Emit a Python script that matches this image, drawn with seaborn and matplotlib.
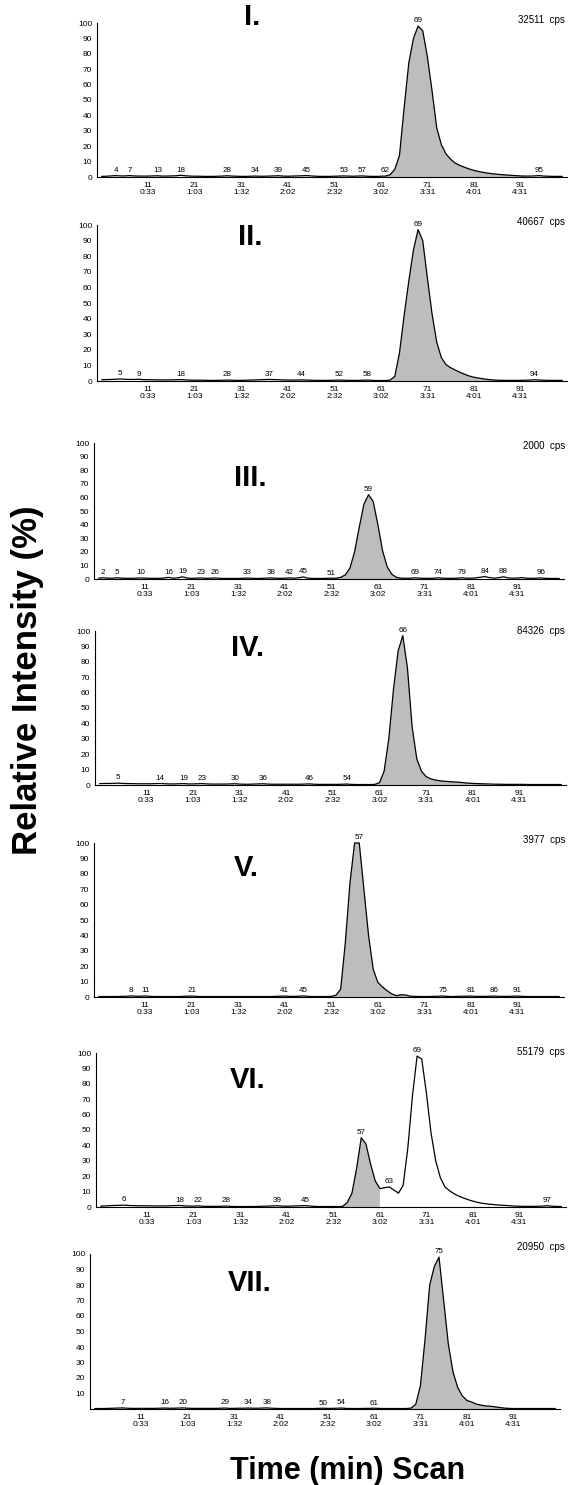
import matplotlib
matplotlib.use("Agg")
import matplotlib.pyplot as plt
import numpy as np
import pandas as pd
import seaborn as sns

sns.set_theme(style="white")
plt.rcParams["font.family"] = ["Liberation Sans", "DejaVu Sans"]
plt.rcParams["text.color"] = "black"
plt.rcParams["axes.labelcolor"] = "black"
plt.rcParams["xtick.color"] = "black"
plt.rcParams["ytick.color"] = "black"

# scan numbers and elution times of the labelled scans
scans = list(range(1, 101))
scan_ticks = [11, 21, 31, 41, 51, 61, 71, 81, 91]
time_ticks = ["0:33", "1:03", "1:32", "2:02", "2:32", "3:02", "3:31", "4:01", "4:31"]

panel_names = ["I.", "II.", "III.", "IV.", "V.", "VI.", "VII."]
cps_values = [32511, 40667, 2000, 84326, 3977, 55179, 20950]

# relative intensity (%) per scan, scans 1..100
trace_I = [0.4, 0.5, 0.7, 0.9, 0.7, 0.7, 0.9, 0.7, 0.6, 0.6,
           0.6, 0.7, 0.8, 0.6, 0.6, 0.7, 0.8, 1.1, 0.8, 0.6,
           0.5, 0.5, 0.4, 0.4, 0.4, 0.5, 0.6, 0.8, 0.6, 0.5,
           0.4, 0.4, 0.5, 0.6, 0.5, 0.5, 0.6, 0.7, 0.8, 0.6,
           0.5, 0.6, 0.7, 0.8, 0.9, 0.7, 0.5, 0.4, 0.4, 0.4,
           0.5, 0.6, 0.7, 0.6, 0.5, 0.6, 0.7, 0.5, 0.4, 0.4,
           0.5, 0.6, 1.5, 5.0, 14.0, 45.0, 74.0, 90.0, 98.0, 95.0,
           78.0, 56.0, 32.0, 21.0, 15.0, 11.5, 9.0, 7.5, 6.3, 5.2,
           4.3, 3.6, 3.0, 2.5, 2.1, 1.8, 1.5, 1.3, 1.1, 0.9,
           0.7, 0.6, 0.6, 0.7, 0.9, 0.6, 0.5, 0.4, 0.4, 0.4]
trace_II = [0.8, 0.9, 1.0, 1.1, 1.3, 1.1, 1.0, 1.0, 1.1, 0.9,
            0.8, 0.8, 0.7, 0.7, 0.7, 0.7, 0.8, 0.9, 0.7, 0.6,
            0.5, 0.5, 0.5, 0.4, 0.4, 0.4, 0.5, 0.6, 0.5, 0.4,
            0.4, 0.5, 0.6, 0.7, 0.8, 0.9, 1.0, 0.9, 0.8, 0.7,
            0.6, 0.6, 0.6, 0.7, 0.6, 0.5, 0.4, 0.4, 0.4, 0.4,
            0.5, 0.6, 0.5, 0.4, 0.4, 0.4, 0.5, 0.6, 0.4, 0.3,
            0.3, 0.3, 0.6, 3.0, 18.0, 42.0, 64.0, 84.0, 97.0, 90.0,
            66.0, 43.0, 25.0, 15.0, 10.5, 8.5, 7.0, 5.6, 4.3, 3.2,
            2.4, 1.9, 1.4, 1.0, 0.7, 0.5, 0.4, 0.4, 0.4, 0.4,
            0.4, 0.5, 0.6, 0.8, 0.6, 0.5, 0.4, 0.4, 0.4, 0.4]
trace_III = [0.6, 0.9, 0.6, 0.6, 0.9, 0.6, 0.5, 0.5, 0.6, 0.8,
             0.6, 0.5, 0.5, 0.5, 0.7, 1.2, 0.6, 0.8, 1.6, 0.7,
             0.5, 0.6, 0.8, 0.5, 0.6, 0.8, 0.5, 0.4, 0.4, 0.4,
             0.4, 0.5, 0.7, 0.5, 0.4, 0.5, 0.6, 0.8, 0.6, 0.5,
             0.6, 0.8, 0.6, 0.9, 1.5, 0.6, 0.4, 0.4, 0.4, 0.5,
             0.6, 0.6, 1.2, 3.0, 8.0, 20.0, 38.0, 55.0, 62.0, 57.0,
             40.0, 21.0, 9.0, 3.5, 1.2, 0.6, 0.5, 0.6, 0.9, 0.6,
             0.5, 0.5, 0.6, 0.9, 0.6, 0.5, 0.5, 0.6, 0.9, 0.6,
             0.6, 0.8, 1.3, 1.8, 1.0, 0.6, 1.0, 1.6, 0.8, 0.6,
             0.7, 1.0, 0.6, 0.5, 0.6, 0.8, 0.5, 0.4, 0.4, 0.4]
trace_IV = [0.9, 1.0, 1.0, 1.1, 1.2, 1.0, 0.9, 0.9, 0.8, 0.8,
            0.8, 0.8, 0.9, 1.0, 0.8, 0.7, 0.7, 0.8, 0.9, 0.7,
            0.7, 0.8, 0.9, 0.7, 0.6, 0.6, 0.6, 0.6, 0.7, 0.8,
            0.6, 0.5, 0.5, 0.6, 0.7, 0.8, 0.6, 0.5, 0.5, 0.5,
            0.5, 0.5, 0.5, 0.5, 0.6, 0.7, 0.5, 0.4, 0.4, 0.4,
            0.4, 0.4, 0.5, 0.6, 0.4, 0.3, 0.3, 0.3, 0.3, 0.4,
            1.5, 9.0, 30.0, 62.0, 87.0, 97.0, 76.0, 38.0, 17.0, 9.0,
            5.5, 4.0, 3.2, 2.7, 2.4, 2.2, 2.0, 1.8, 1.5, 1.2,
            1.0, 0.9, 0.8, 0.7, 0.6, 0.5, 0.5, 0.4, 0.4, 0.4,
            0.4, 0.4, 0.3, 0.3, 0.3, 0.3, 0.3, 0.3, 0.3, 0.3]
trace_V = [0.3, 0.3, 0.3, 0.3, 0.3, 0.4, 0.5, 0.7, 0.5, 0.5,
           0.7, 0.4, 0.3, 0.3, 0.3, 0.3, 0.3, 0.3, 0.4, 0.5,
           0.6, 0.4, 0.3, 0.3, 0.3, 0.3, 0.3, 0.3, 0.3, 0.3,
           0.3, 0.3, 0.3, 0.3, 0.3, 0.3, 0.3, 0.3, 0.4, 0.5,
           0.6, 0.4, 0.4, 0.5, 0.7, 0.4, 0.3, 0.3, 0.3, 0.3,
           0.4, 1.2, 5.0, 35.0, 74.0, 100.0, 100.0, 70.0, 40.0, 18.0,
           9.5, 6.5, 4.0, 2.0, 0.9, 1.4, 1.3, 0.5, 0.4, 0.3,
           0.3, 0.3, 0.4, 0.5, 0.6, 0.4, 0.3, 0.4, 0.5, 0.5,
           0.6, 0.4, 0.4, 0.4, 0.5, 0.6, 0.4, 0.4, 0.4, 0.5,
           0.6, 0.4, 0.3, 0.3, 0.3, 0.3, 0.3, 0.3, 0.3, 0.3]
trace_VI = [0.5, 0.7, 0.9, 1.0, 1.1, 1.2, 1.0, 0.9, 0.8, 0.8,
            0.8, 0.7, 0.7, 0.7, 0.7, 0.8, 0.9, 1.0, 0.7, 0.6,
            0.6, 0.7, 0.5, 0.4, 0.4, 0.4, 0.5, 0.6, 0.4, 0.3,
            0.3, 0.3, 0.3, 0.3, 0.4, 0.5, 0.6, 0.7, 0.8, 0.6,
            0.5, 0.6, 0.7, 0.8, 0.9, 0.6, 0.4, 0.3, 0.3, 0.3,
            0.3, 0.3, 0.4, 3.0, 9.0, 25.0, 45.0, 41.0, 28.0, 17.0,
            12.0, 12.5, 13.0, 11.0, 9.0, 14.0, 38.0, 72.0, 98.0, 96.0,
            74.0, 48.0, 30.0, 19.0, 13.0, 10.5, 8.5, 7.0, 5.8, 4.7,
            3.8, 3.0, 2.4, 2.0, 1.7, 1.4, 1.2, 1.0, 0.8, 0.6,
            0.5, 0.4, 0.4, 0.4, 0.5, 0.6, 0.8, 0.5, 0.4, 0.3]
trace_VII = [0.3, 0.3, 0.3, 0.4, 0.5, 0.6, 0.7, 0.5, 0.4, 0.4,
             0.4, 0.4, 0.4, 0.4, 0.5, 0.6, 0.5, 0.5, 0.6, 0.7,
             0.5, 0.4, 0.4, 0.4, 0.4, 0.4, 0.4, 0.5, 0.6, 0.4,
             0.4, 0.5, 0.5, 0.6, 0.5, 0.5, 0.6, 0.7, 0.5, 0.4,
             0.3, 0.3, 0.3, 0.3, 0.3, 0.3, 0.3, 0.3, 0.4, 0.5,
             0.4, 0.4, 0.5, 0.6, 0.4, 0.3, 0.3, 0.3, 0.4, 0.4,
             0.5, 0.4, 0.3, 0.3, 0.3, 0.3, 0.3, 0.3, 0.6, 3.0,
             15.0, 45.0, 80.0, 92.0, 98.0, 70.0, 42.0, 24.0, 14.0, 8.5,
             5.5, 4.5, 3.2, 2.5, 2.0, 1.8, 1.4, 1.0, 0.6, 0.4,
             0.3, 0.3, 0.3, 0.3, 0.3, 0.3, 0.3, 0.3, 0.3, 0.3]

# scans carrying a peak label
peaks_I = [4, 7, 13, 18, 28, 34, 39, 45, 53, 57, 62, 69, 95]
peaks_II = [5, 9, 18, 28, 37, 44, 52, 58, 69, 94]
peaks_III = [2, 5, 10, 16, 19, 23, 26, 33, 38, 42, 45, 51, 59, 69, 74, 79, 84, 88, 96]
peaks_IV = [5, 14, 19, 23, 30, 36, 46, 54, 66]
peaks_V = [8, 11, 21, 41, 45, 57, 75, 81, 86, 91]
peaks_VI = [6, 18, 22, 28, 39, 45, 57, 63, 69, 97]
peaks_VII = [7, 16, 20, 29, 34, 38, 50, 54, 61, 75]

# shaded (integrated) scan window of each trace
shade_I = (62, 92)
shade_II = (63, 87)
shade_III = (52, 66)
shade_IV = (60, 84)
shade_V = (51, 68)
shade_VI = (53, 61)
shade_VII = (68, 90)

traces = [trace_I, trace_II, trace_III, trace_IV, trace_V, trace_VI, trace_VII]
peaks = [peaks_I, peaks_II, peaks_III, peaks_IV, peaks_V, peaks_VI, peaks_VII]
shades = [shade_I, shade_II, shade_III, shade_IV, shade_V, shade_VI, shade_VII]

W, H = 568, 1485
fig = plt.figure(figsize=(W / 100, H / 100), dpi=100)
fig.patch.set_facecolor("white")

# panel boxes in pixels: left, right, top (100 %), bottom (0 %)
boxes = [(97, 567, 23, 177), (97, 567, 225, 381), (94, 564, 443, 579),
         (95, 566, 631, 785), (94, 564, 843, 997), (96, 566, 1053, 1207),
         (90, 560, 1254, 1409)]
title_xy = [(252, 17), (250, 237), (250, 478), (248, 648),
            (246, 868), (248, 1080), (250, 1283)]
cps_y = [20, 222, 446, 631, 840, 1052, 1247]


def fx(px):
    return px / W


def fy(py):
    return 1 - py / H


major = list(range(1, 100, 5))
xlabels = []
for s in major:
    if s in scan_ticks:
        xlabels.append(f"{s}\n{time_ticks[scan_ticks.index(s)]}")
    else:
        xlabels.append("")

for i, (trace, pk, shade) in enumerate(zip(traces, peaks, shades)):
    L, R, T, B = boxes[i]
    ax = fig.add_axes([fx(L), fy(B), (R - L) / W, (B - T) / H])
    df = pd.DataFrame({"scan": scans, "intensity": trace})
    win = df[(df.scan >= shade[0]) & (df.scan <= shade[1])]
    ax.fill_between(win.scan, 0, win.intensity, facecolor="#bdbdbd",
                    edgecolor="none", lw=0, zorder=1)
    sns.lineplot(data=df, x="scan", y="intensity", ax=ax, color="black",
                 lw=0.9, zorder=3)
    for ln in ax.lines:
        ln.set_clip_on(False)
    ax.set_xlim(0, 101)
    ax.set_ylim(0, 100)
    ax.set_xlabel("")
    ax.set_ylabel("")
    for side in ("top", "right"):
        ax.spines[side].set_visible(False)
    for side in ("left", "bottom"):
        ax.spines[side].set_color("black")
        ax.spines[side].set_linewidth(0.8)
    yt = list(range(0, 101, 10)) if i < 6 else list(range(10, 101, 10))
    ax.set_yticks(yt)
    ax.set_yticklabels([str(v) for v in yt])
    ax.set_xticks(major)
    ax.set_xticklabels(xlabels, linespacing=0.95)
    ax.tick_params(axis="both", direction="out", length=2.5, width=0.6,
                   labelsize=6, pad=1, colors="black")
    ax.grid(False)

    for s in pk:
        v = trace[s - 1]
        ax.annotate(str(s), (s, v), xytext=(0, 1.2), textcoords="offset points",
                    ha="center", va="bottom", fontsize=5.8, color="black",
                    annotation_clip=False)

    tx, ty = title_xy[i]
    fig.text(fx(tx), fy(ty), panel_names[i], ha="center", va="center",
             fontsize=21, fontweight="bold", color="black")
    fig.text(fx(565), fy(cps_y[i]), f"{cps_values[i]}  cps", ha="right",
             va="center", fontsize=7, color="black")

fig.text(fx(28), fy(680), "Relative Intensity (%)", rotation=90,
         ha="center", va="center", fontsize=25, fontweight="bold",
         color="black")
fig.text(fx(348), fy(1479), "Time (min) Scan", ha="center", va="baseline",
         fontsize=22, fontweight="bold", color="black")

fig.savefig("out.png", dpi=100, facecolor="white")
